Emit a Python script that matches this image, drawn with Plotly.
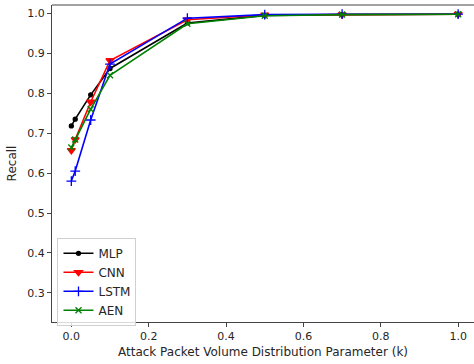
import plotly.graph_objects as go

k_values = [0.0, 0.01, 0.05, 0.1, 0.3, 0.5, 0.7, 1.0]
mlp = [0.718, 0.735, 0.796, 0.862, 0.976, 0.995, 0.997, 0.998]
cnn = [0.657, 0.684, 0.778, 0.882, 0.984, 0.996, 0.997, 0.998]
lstm = [0.580, 0.605, 0.733, 0.873, 0.988, 0.997, 0.998, 0.998]
aen = [0.664, 0.684, 0.760, 0.845, 0.974, 0.994, 0.997, 0.998]

x_ticks = [0.0, 0.2, 0.4, 0.6, 0.8, 1.0]
x_tick_labels = ["0.0", "0.2", "0.4", "0.6", "0.8", "1.0"]
y_ticks = [0.3, 0.4, 0.5, 0.6, 0.7, 0.8, 0.9, 1.0]
y_tick_labels = ["0.3", "0.4", "0.5", "0.6", "0.7", "0.8", "0.9", "1.0"]

series = [
    ("MLP", mlp, "black", "circle", 4),
    ("CNN", cnn, "red", "triangle-down", 7),
    ("LSTM", lstm, "blue", "cross-thin", 7),
    ("AEN", aen, "green", "x-thin", 6),
]

fig = go.Figure()
for name, vals, color, sym, size in series:
    fig.add_trace(go.Scatter(
        x=k_values, y=vals, name=name, mode="lines+markers",
        line=dict(color=color, width=1.6),
        marker=dict(symbol=sym, size=size, color=color,
                    line=dict(color=color, width=1.3)),
    ))

font = "DejaVu Sans, sans-serif"
fig.update_layout(
    width=474, height=364,
    margin=dict(l=52, r=0, t=5, b=42),
    plot_bgcolor="white", paper_bgcolor="white",
    font=dict(family=font, size=11, color="#262626"),
    showlegend=True,
    legend=dict(x=0.013, y=-0.012, xanchor="left", yanchor="bottom",
                bgcolor="rgba(255,255,255,0.8)", bordercolor="#d0d0d0",
                borderwidth=1, font=dict(size=12, color="#262626"),
                itemwidth=30, tracegroupgap=0),
    xaxis=dict(range=[-0.05, 1.041], tickvals=x_ticks, ticktext=x_tick_labels,
               showgrid=False, zeroline=False, showline=True, linecolor="#444",
               linewidth=1, ticks="outside", ticklen=4, tickcolor="#444",
               tickfont=dict(size=11),
               title=dict(text="Attack Packet Volume Distribution Parameter (k)",
                          font=dict(size=12), standoff=5)),
    yaxis=dict(range=[0.227, 1.021], tickvals=y_ticks, ticktext=y_tick_labels,
               showgrid=False, zeroline=False, showline=True, linecolor="#444",
               linewidth=1, ticks="outside", ticklen=4, tickcolor="#444",
               tickfont=dict(size=11),
               title=dict(text="Recall", font=dict(size=12), standoff=8)),
    shapes=[dict(type="line", xref="paper", yref="paper", x0=0, x1=1, y0=1, y1=1,
                 line=dict(color="#444", width=1))],
)

fig.write_html("out.html")
